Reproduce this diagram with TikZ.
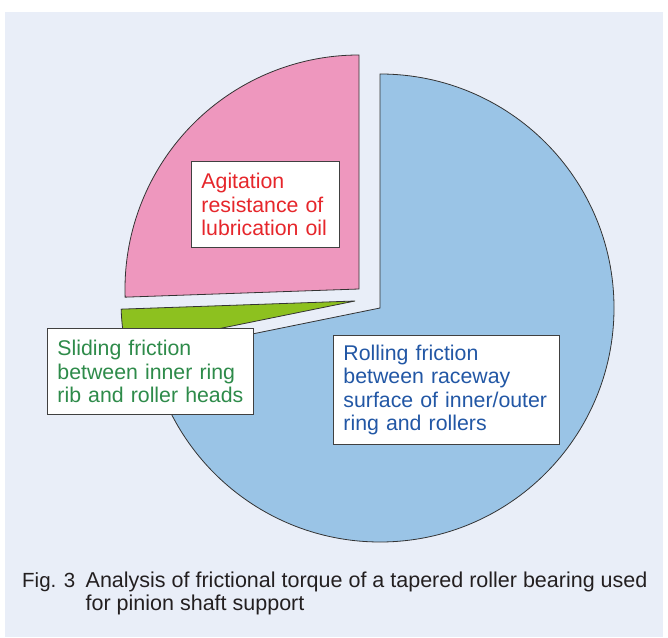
\documentclass[tikz,border=0pt]{standalone}
\usepackage{fontspec}
\setmainfont{Liberation Sans}
\usetikzlibrary{positioning}
\definecolor{bgc}{RGB}{233,238,248}
\definecolor{bluec}{RGB}{154,196,230}
\definecolor{pinkc}{RGB}{238,151,190}
\definecolor{greenc}{RGB}{141,193,31}
\definecolor{redtxt}{RGB}{230,38,43}
\definecolor{greentxt}{RGB}{46,139,74}
\definecolor{bluetxt}{RGB}{34,87,165}
\definecolor{captxt}{RGB}{35,31,32}

\begin{document}
\begin{tikzpicture}[x=1pt,y=1pt]
\tikzstyle {slice}=[draw=black!80, line width=0.8pt]
\tikzstyle {lbl}=[rectangle, draw=black!75, fill=white, line width=0.9pt, anchor=north west, align=left, inner xsep=10pt, font=\fontsize{21.3}{23.5}\selectfont]
\tikzstyle {captline}=[anchor=base west, inner sep=0pt, text=captxt, font=\fontsize{21.5}{23}\selectfont]
\useasboundingbox (0,0) rectangle (668,637);
\fill [bgc] (5,0) rectangle (663,625);
\coordinate (cb) at (380,329);
\coordinate (cp) at (359,348);
\coordinate (cg) at (355,336);
\draw [slice, fill=bluec] (cb) -- ++(90:234) arc [start angle=90, end angle=-168.5, radius=234pt] -- cycle;
\draw [slice, fill=pinkc] (cp) -- ++(90:234) arc [start angle=90, end angle=182, radius=234pt] -- cycle;
\draw [slice, fill=greenc] (cg) -- ++(182:234) arc [start angle=182, end angle=191.5, radius=234pt] -- cycle;
\node (agit) [lbl, text=redtxt, text width=128pt, minimum height=86pt] at (191,476) {Agitation\\resistance of\\lubrication oil};
\node (slid) [lbl, text=greentxt, text width=186pt, minimum height=86pt] at (47,309) {Sliding friction\\between inner ring\\rib and roller heads};
\node (roll) [lbl, text=bluetxt, text width=206pt, minimum height=109pt] at (333,302) {Rolling friction\\between raceway\\surface of inner/outer\\ring and rollers};
\node (fig) [captline, font=\fontsize{20.5}{23}\selectfont] at (22,50) {Fig. 3};
\node (capa) [captline] at (85.5,50) {Analysis of frictional torque of a tapered roller bearing used};
\node (capb) [captline] at (85.5,27) {for pinion shaft support};
\end{tikzpicture}
\end{document}
